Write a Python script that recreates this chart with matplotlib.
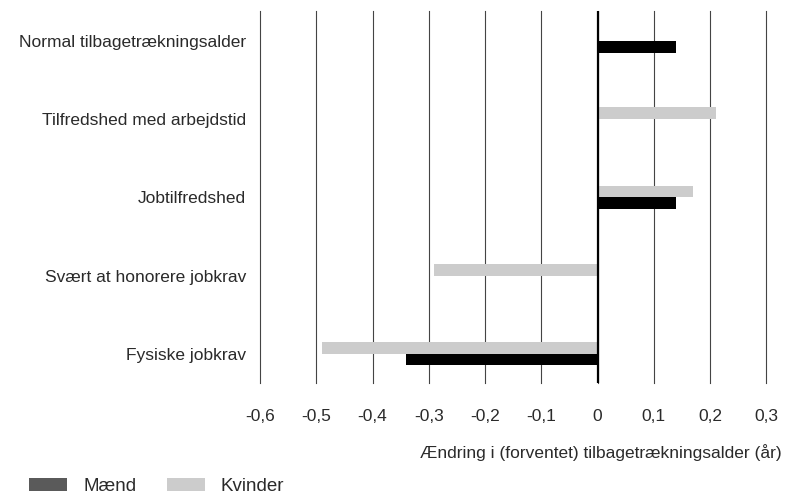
import matplotlib
matplotlib.use("Agg")
import matplotlib.pyplot as plt
from matplotlib.patches import Patch
import numpy as np

# Effect on (expected) retirement age, in years
categories = [
    "Normal tilbagetrækningsalder",
    "Tilfredshed med arbejdstid",
    "Jobtilfredshed",
    "Svært at honorere jobkrav",
    "Fysiske jobkrav",
]
kvinder = [0.0, 0.21, 0.17, -0.29, -0.49]
maend = [0.14, 0.0, 0.14, 0.0, -0.34]

x_ticks = [-0.6, -0.5, -0.4, -0.3, -0.2, -0.1, 0.0, 0.1, 0.2, 0.3]
x_tick_labels = ["-0,6", "-0,5", "-0,4", "-0,3", "-0,2", "-0,1", "0", "0,1", "0,2", "0,3"]
x_label = "Ændring i (forventet) tilbagetrækningsalder (år)"
series_names = ["Mænd", "Kvinder"]

plt.rcParams["font.family"] = ["Liberation Sans", "DejaVu Sans"]
text_color = "#2a2a2a"

W, H = 786, 496
fig = plt.figure(figsize=(W / 100, H / 100), dpi=100)
ax = fig.add_axes([260 / W, 113 / H, (766.3 - 260) / W, (485 - 113) / H])

y = np.arange(len(categories))
h = 0.15
ax.barh(y - h / 2, kvinder, height=h, color="#cccccc", linewidth=0, zorder=2)
ax.barh(y + h / 2, maend, height=h, color="black", linewidth=0, zorder=2)

ax.set_xlim(-0.6, 0.3)
ax.set_ylim(4.374, -0.383)
ax.set_xticks(x_ticks)
ax.set_xticklabels(x_tick_labels)
ax.set_yticks(y)
ax.set_yticklabels(categories)

ax.xaxis.grid(True, color="#444444", linewidth=0.8, zorder=1)
for gl in ax.get_xgridlines():
    gl.set_clip_on(False)
ax.yaxis.grid(False)
ax.set_axisbelow(True)
ax.axvline(0, color="black", linewidth=1.6, zorder=3)

for s in ax.spines.values():
    s.set_visible(False)

ax.tick_params(axis="x", length=0, pad=19, labelsize=12.5, labelcolor=text_color)
ax.tick_params(axis="y", length=0, pad=10, labelsize=12.5, labelcolor=text_color)

fig.text(782 / W, 1 - 453 / H, x_label, ha="right", va="center",
         fontsize=12.5, color=text_color)

handles = [Patch(facecolor="#5a5a5a", edgecolor="none"),
           Patch(facecolor="#cccccc", edgecolor="none")]
fig.legend(handles, series_names, loc="upper left",
           bbox_to_anchor=(29 / W, 1 - 478 / H), ncol=2, frameon=False,
           fontsize=13.5, borderpad=0, borderaxespad=0,
           handlelength=2.05, handleheight=0.7, handletextpad=0.85,
           columnspacing=1.6, labelcolor=text_color)

fig.savefig("out.png", dpi=100)
